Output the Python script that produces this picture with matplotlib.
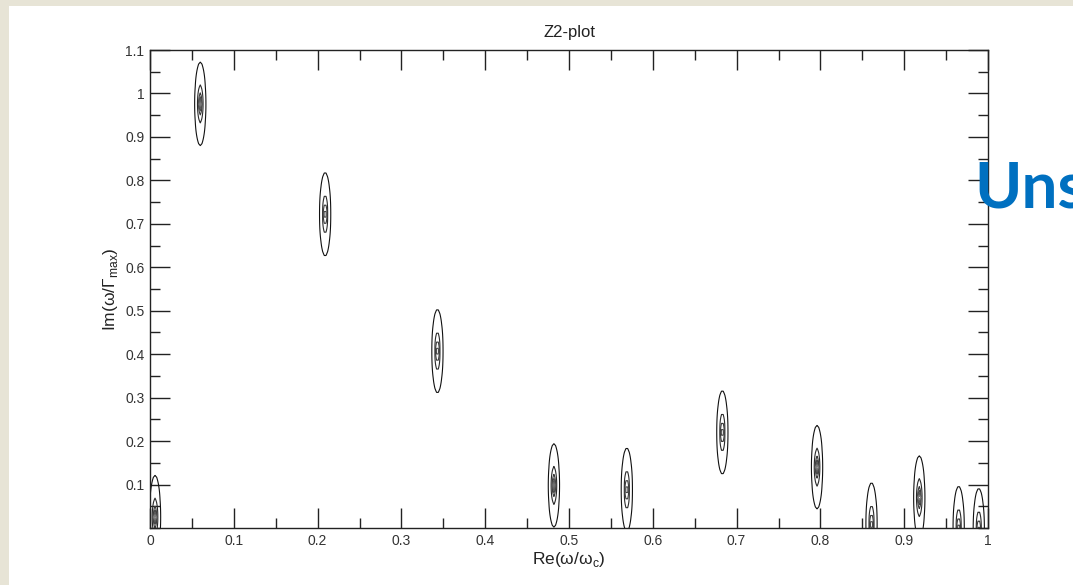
import numpy as np
import matplotlib
matplotlib.use("Agg")
import matplotlib.pyplot as plt
from matplotlib.patches import Rectangle
from matplotlib.ticker import MultipleLocator

# pole positions (Re(w/wc), Im(w/Gmax))
pole_re = [0.006, 0.060, 0.209, 0.343, 0.482, 0.569, 0.683, 0.796, 0.861, 0.918, 0.965, 0.989]
pole_im = [0.025, 0.976, 0.722, 0.407, 0.098, 0.088, 0.220, 0.140, 0.008, 0.070, 0.000, -0.005]

x_ticks = [0, 0.1, 0.2, 0.3, 0.4, 0.5, 0.6, 0.7, 0.8, 0.9, 1]
x_ticklabels = ["0", "0.1", "0.2", "0.3", "0.4", "0.5", "0.6", "0.7", "0.8", "0.9", "1"]
y_ticks = [0.1, 0.2, 0.3, 0.4, 0.5, 0.6, 0.7, 0.8, 0.9, 1.0, 1.1]
y_ticklabels = ["0.1", "0.2", "0.3", "0.4", "0.5", "0.6", "0.7", "0.8", "0.9", "1", "1.1"]

# contour levels of the response around each pole
levels = [1, 2.2, 3.8, 6, 9, 14, 22, 35, 60]

plt.rcParams['font.family'] = ['Liberation Sans', 'DejaVu Sans']
plt.rcParams['mathtext.fontset'] = 'custom'
plt.rcParams['mathtext.rm'] = 'Liberation Sans'

fig = plt.figure(figsize=(10.73, 5.85), dpi=100)
fig.patch.set_facecolor('#E7E4D6')
fig.patches.append(Rectangle((9 / 1073, 0), 1 - 9 / 1073, 1 - 6 / 585,
                             transform=fig.transFigure, facecolor='white',
                             edgecolor='none', zorder=-5))

ax = fig.add_axes([150 / 1073, 1 - 528 / 585, 838 / 1073, 478 / 585])
ax.set_zorder(1)
ax.set_facecolor('white')

# coarse grid, like the original solver output
x = np.arange(0, 1.0001, 0.002)
y = np.arange(-0.05, 1.1001, 0.005)
X, Y = np.meshgrid(x, y)
sx, sy = 0.0066, 0.096
Z = np.zeros_like(X)
for re, im in zip(pole_re, pole_im):
    r = np.sqrt(((X - re) / sx) ** 2 + ((Y - im) / sy) ** 2)
    Z = np.maximum(Z, 1.0 / np.maximum(r, 1e-3))

line_colors = ['#111111', '#2a2a2a', '#3a3a3a', '#4a4a4a', '#555555',
               '#5f5f5f', '#666666', '#707070', '#7a7a7a']
ax.contour(X, Y, Z, levels=levels, colors=line_colors, linewidths=0.8)

ax.set_xlim(0, 1)
ax.set_ylim(0, 1.1)
ax.set_xticks(x_ticks)
ax.set_xticklabels(x_ticklabels)
ax.set_yticks(y_ticks)
ax.set_yticklabels(y_ticklabels)
ax.xaxis.set_minor_locator(MultipleLocator(0.05))
ax.yaxis.set_minor_locator(MultipleLocator(0.05))
ax.tick_params(which='both', direction='in', top=True, right=True,
               colors='#222222', labelcolor='#333333', labelsize=10, width=1)
ax.tick_params(which='major', length=14.5, pad=4)
ax.tick_params(which='minor', length=7.2)
for s in ax.spines.values():
    s.set_color('#222222')
    s.set_linewidth(1)

ax.set_title('Z2-plot', fontsize=12, color='#222222', pad=9)
ax.set_xlabel('Re(ω/ω$_{\\rm c}$)', fontsize=12.5, color='#222222', labelpad=2)
ax.set_ylabel('Im(ω/Γ$_{\\rm max}$)', fontsize=12.5, color='#222222', labelpad=4)

fig.text(974 / 1073, 1 - 207 / 585, 'Uns', fontsize=46, fontweight='bold',
         family='Lato', color='#0070C0', zorder=10)

fig.savefig('out.png', dpi=100, facecolor=fig.get_facecolor())
